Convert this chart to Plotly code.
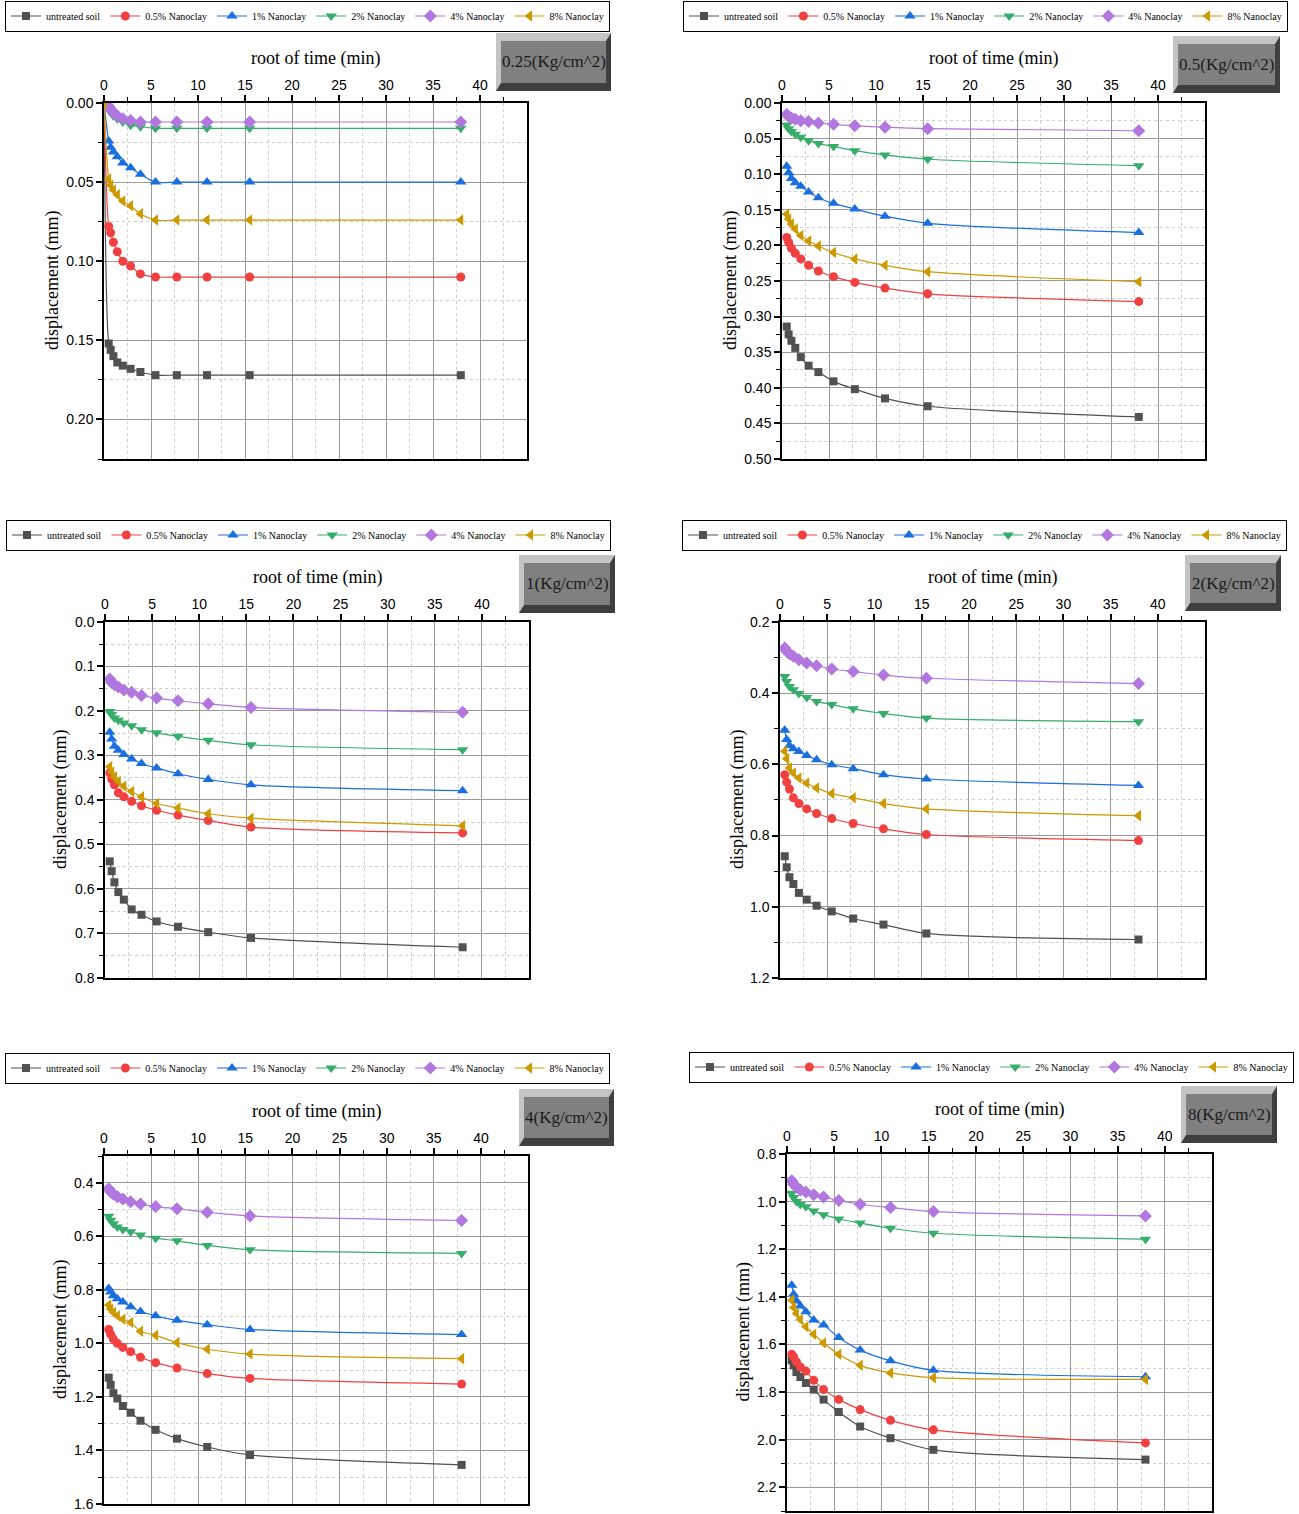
import plotly.graph_objects as go

W, H = 1299, 1514

# ---------------- data ----------------
sqrt_time = [0.5, 0.707, 1.0, 1.414, 2.0, 2.828, 3.873, 5.477, 7.746, 10.954, 15.492, 37.947]
sqrt_time_first = [0.0] + sqrt_time   # the 0.25 kg/cm^2 test also has the t = 0 reading

series_names = ["untreated soil", "0.5% Nanoclay", "1% Nanoclay", "2% Nanoclay", "4% Nanoclay", "8% Nanoclay"]
load_labels = ["0.25(Kg/cm^2)", "0.5(Kg/cm^2)", "1(Kg/cm^2)", "2(Kg/cm^2)", "4(Kg/cm^2)", "8(Kg/cm^2)"]

# 0.25 kg/cm^2
d025_untreated = [0, 0.152, 0.156, 0.160, 0.164, 0.166, 0.168, 0.170, 0.172, 0.172, 0.172, 0.172, 0.172]
d025_n05 = [0, 0.078, 0.082, 0.088, 0.094, 0.100, 0.103, 0.108, 0.110, 0.110, 0.110, 0.110, 0.110]
d025_n1 = [0, 0.024, 0.028, 0.031, 0.034, 0.038, 0.041, 0.045, 0.050, 0.050, 0.050, 0.050, 0.050]
d025_n2 = [0, 0.004, 0.006, 0.008, 0.010, 0.012, 0.014, 0.015, 0.016, 0.016, 0.016, 0.016, 0.016]
d025_n4 = [0, 0.002, 0.004, 0.006, 0.008, 0.010, 0.011, 0.012, 0.012, 0.012, 0.012, 0.012, 0.012]
d025_n8 = [0, 0.048, 0.052, 0.055, 0.058, 0.062, 0.065, 0.070, 0.074, 0.074, 0.074, 0.074, 0.074]

# 0.5 kg/cm^2
d05_untreated = [0.314, 0.325, 0.334, 0.344, 0.357, 0.369, 0.378, 0.391, 0.402, 0.415, 0.426, 0.441]
d05_n05 = [0.189, 0.196, 0.204, 0.211, 0.219, 0.228, 0.236, 0.244, 0.252, 0.260, 0.268, 0.279]
d05_n1 = [0.089, 0.098, 0.106, 0.112, 0.117, 0.125, 0.133, 0.141, 0.149, 0.159, 0.169, 0.182]
d05_n2 = [0.031, 0.036, 0.040, 0.044, 0.048, 0.053, 0.057, 0.061, 0.067, 0.073, 0.079, 0.088]
d05_n4 = [0.016, 0.019, 0.021, 0.023, 0.025, 0.026, 0.028, 0.030, 0.032, 0.034, 0.036, 0.039]
d05_n8 = [0.156, 0.163, 0.170, 0.177, 0.186, 0.194, 0.201, 0.210, 0.219, 0.228, 0.237, 0.251]

# 1 kg/cm^2
d1_untreated = [0.538, 0.560, 0.585, 0.607, 0.624, 0.646, 0.658, 0.673, 0.685, 0.697, 0.710, 0.731]
d1_n05 = [0.339, 0.353, 0.366, 0.384, 0.393, 0.403, 0.413, 0.423, 0.434, 0.446, 0.461, 0.474]
d1_n1 = [0.248, 0.263, 0.279, 0.288, 0.298, 0.308, 0.318, 0.328, 0.341, 0.354, 0.366, 0.379]
d1_n2 = [0.201, 0.208, 0.216, 0.221, 0.227, 0.233, 0.242, 0.249, 0.257, 0.266, 0.276, 0.287]
d1_n4 = [0.128, 0.136, 0.141, 0.146, 0.153, 0.158, 0.165, 0.171, 0.177, 0.184, 0.192, 0.203]
d1_n8 = [0.325, 0.337, 0.348, 0.358, 0.369, 0.381, 0.393, 0.408, 0.418, 0.431, 0.441, 0.458]

# 2 kg/cm^2
d2_untreated = [0.858, 0.889, 0.917, 0.936, 0.961, 0.980, 0.997, 1.013, 1.033, 1.050, 1.075, 1.092]
d2_n05 = [0.629, 0.650, 0.669, 0.694, 0.710, 0.725, 0.738, 0.752, 0.766, 0.781, 0.797, 0.814]
d2_n1 = [0.504, 0.530, 0.547, 0.556, 0.564, 0.575, 0.587, 0.601, 0.612, 0.629, 0.641, 0.659]
d2_n2 = [0.353, 0.367, 0.381, 0.390, 0.401, 0.412, 0.423, 0.432, 0.444, 0.457, 0.470, 0.480]
d2_n4 = [0.273, 0.282, 0.289, 0.296, 0.306, 0.315, 0.323, 0.332, 0.339, 0.349, 0.358, 0.373]
d2_n8 = [0.563, 0.584, 0.610, 0.624, 0.638, 0.652, 0.666, 0.682, 0.694, 0.710, 0.725, 0.744]

# 4 kg/cm^2
d4_untreated = [1.128, 1.155, 1.186, 1.206, 1.234, 1.259, 1.289, 1.323, 1.356, 1.387, 1.417, 1.454]
d4_n05 = [0.948, 0.966, 0.984, 1.000, 1.015, 1.031, 1.052, 1.072, 1.092, 1.113, 1.131, 1.152]
d4_n1 = [0.795, 0.808, 0.822, 0.833, 0.845, 0.863, 0.881, 0.897, 0.914, 0.930, 0.948, 0.967]
d4_n2 = [0.525, 0.540, 0.553, 0.565, 0.575, 0.583, 0.595, 0.607, 0.617, 0.634, 0.650, 0.664]
d4_n4 = [0.422, 0.434, 0.443, 0.452, 0.461, 0.471, 0.479, 0.489, 0.497, 0.510, 0.524, 0.541]
d4_n8 = [0.857, 0.872, 0.885, 0.897, 0.910, 0.922, 0.955, 0.970, 0.997, 1.022, 1.040, 1.057]

# 8 kg/cm^2
d8_untreated = [1.667, 1.688, 1.716, 1.737, 1.762, 1.790, 1.832, 1.884, 1.945, 1.994, 2.043, 2.084]
d8_n05 = [1.641, 1.653, 1.674, 1.695, 1.712, 1.751, 1.790, 1.831, 1.874, 1.919, 1.959, 2.014]
d8_n1 = [1.351, 1.389, 1.417, 1.439, 1.463, 1.498, 1.519, 1.571, 1.624, 1.669, 1.709, 1.736]
d8_n2 = [0.965, 0.983, 1.000, 1.012, 1.022, 1.040, 1.055, 1.073, 1.090, 1.112, 1.133, 1.158]
d8_n4 = [0.912, 0.927, 0.940, 0.951, 0.960, 0.971, 0.981, 0.995, 1.011, 1.025, 1.042, 1.060]
d8_n8 = [1.414, 1.445, 1.470, 1.495, 1.526, 1.557, 1.594, 1.641, 1.688, 1.720, 1.740, 1.747]

panel_data = [
    (sqrt_time_first, [d025_untreated, d025_n05, d025_n1, d025_n2, d025_n4, d025_n8]),
    (sqrt_time, [d05_untreated, d05_n05, d05_n1, d05_n2, d05_n4, d05_n8]),
    (sqrt_time, [d1_untreated, d1_n05, d1_n1, d1_n2, d1_n4, d1_n8]),
    (sqrt_time, [d2_untreated, d2_n05, d2_n1, d2_n2, d2_n4, d2_n8]),
    (sqrt_time, [d4_untreated, d4_n05, d4_n1, d4_n2, d4_n4, d4_n8]),
    (sqrt_time, [d8_untreated, d8_n05, d8_n1, d8_n2, d8_n4, d8_n8]),
]

# ---------------- styles / layout ----------------
colors = ["#515151", "#F14040", "#1A6FDF", "#37AD6B", "#B177DE", "#CC9900"]
symbols = ["square", "circle", "triangle-up", "triangle-down", "diamond", "triangle-left"]
msizes = [8, 9, 10, 10, 10, 10]

# pixel geometry of each panel (plot box, legend centre-left, label box, y title x)
panels = [
    dict(px=(104, 527), py=(103, 459), yr=(0.225, 0.0), dt=0.05, mdt=0.025, fmt=".2f",
         leg=(5, 16), box=(496, 33, 611, 91), ytx=52),
    dict(px=(782, 1205), py=(103, 459), yr=(0.5001, 0.0), dt=0.05, mdt=0.025, fmt=".2f",
         leg=(683, 16), box=(1173, 36, 1280, 93), ytx=730),
    dict(px=(105, 529), py=(622, 978), yr=(0.8001, 0.0), dt=0.1, mdt=0.05, fmt=".1f",
         leg=(6, 535), box=(519, 555, 615, 613), ytx=60),
    dict(px=(780, 1205), py=(622, 978), yr=(1.2001, 0.2), dt=0.2, mdt=0.1, fmt=".1f",
         leg=(682, 535), box=(1185, 555, 1281, 611), ytx=737),
    dict(px=(104, 528), py=(1156, 1504), yr=(1.6001, 0.3), dt=0.2, mdt=0.1, fmt=".1f",
         leg=(5, 1068), box=(519, 1089, 614, 1146), ytx=60),
    dict(px=(787, 1212), py=(1154, 1511), yr=(2.3, 0.8), dt=0.2, mdt=0.1, fmt=".1f",
         leg=(689, 1067), box=(1181, 1086, 1277, 1143), ytx=743),
]


def fx(p):
    return p / W


def fy(p):
    return 1 - p / H


SERIF = "Liberation Serif, Times New Roman, serif"
SANS = "Liberation Sans, Arial, sans-serif"

fig = go.Figure()
layout = dict(
    width=W, height=H,
    margin=dict(l=0, r=0, t=0, b=0, autoexpand=False),
    paper_bgcolor="white", plot_bgcolor="white",
    showlegend=True,
)
annotations = []
shapes = []

for i, (p, (xs, ys_list)) in enumerate(zip(panels, panel_data)):
    k = "" if i == 0 else str(i + 1)
    legname = "legend" + k
    for j, ys in enumerate(ys_list):
        fig.add_trace(go.Scatter(
            x=xs, y=ys, name=series_names[j], mode="lines+markers",
            xaxis="x" + k, yaxis="y" + k, legend=legname,
            line=dict(color=colors[j], width=1.2, shape="spline", smoothing=0.8),
            marker=dict(symbol=symbols[j], size=msizes[j], color=colors[j],
                        line=dict(width=0)),
            cliponaxis=True,
        ))

    layout["xaxis" + k] = dict(
        domain=[fx(p["px"][0]), fx(p["px"][1])], anchor="y" + k, side="top",
        range=[0, 44.99], tickmode="linear", tick0=0, dtick=5,
        ticks="outside", ticklen=6, tickwidth=1.5, tickcolor="black",
        showline=True, linecolor="black", linewidth=1.5, mirror=True,
        showgrid=True, gridcolor="#9a9a9a", gridwidth=1, zeroline=False,
        tickfont=dict(family=SANS, size=14, color="black"),
        minor=dict(dtick=2.5, tick0=0, ticks="outside", ticklen=4, tickwidth=1.2,
                   tickcolor="black", showgrid=True, gridcolor="#cfcfcf",
                   griddash="dot", gridwidth=1),
    )
    layout["yaxis" + k] = dict(
        domain=[fy(p["py"][1]), fy(p["py"][0])], anchor="x" + k,
        range=list(p["yr"]), tickmode="linear", tick0=0, dtick=p["dt"],
        tickformat=p["fmt"], ticklabeloverflow="allow",
        ticks="outside", ticklen=6, tickwidth=1.5, tickcolor="black",
        showline=True, linecolor="black", linewidth=1.5, mirror=True,
        showgrid=True, gridcolor="#9a9a9a", gridwidth=1, zeroline=False,
        tickfont=dict(family=SANS, size=14, color="black"),
        minor=dict(dtick=p["mdt"], tick0=0, ticks="outside", ticklen=4, tickwidth=1.2,
                   tickcolor="black", showgrid=True, gridcolor="#cfcfcf",
                   griddash="dot", gridwidth=1),
    )

    layout[legname] = dict(
        orientation="h", x=fx(p["leg"][0]), y=fy(p["leg"][1]),
        xanchor="left", yanchor="middle",
        bordercolor="black", borderwidth=1, bgcolor="white",
        font=dict(family=SERIF, size=10, color="black"),
        itemwidth=30, tracegroupgap=0,
    )

    # axis titles
    xc = (p["px"][0] + p["px"][1]) / 2
    yc = (p["py"][0] + p["py"][1]) / 2
    annotations.append(dict(
        text="root of time (min)", xref="paper", yref="paper",
        x=fx(xc), y=fy(p["py"][0] - 45), xanchor="center", yanchor="middle",
        showarrow=False, font=dict(family=SERIF, size=18, color="black"),
    ))
    annotations.append(dict(
        text="displacement (mm)", xref="paper", yref="paper",
        x=fx(p["ytx"]), y=fy(yc), xanchor="center", yanchor="middle",
        textangle=-90, showarrow=False, font=dict(family=SERIF, size=18, color="black"),
    ))

    # beveled load label box
    x0, y0, x1, y1 = p["box"]
    bl, bt, br, bb = 5, 8, 5, 8

    def P(a, b):
        return f"{fx(a):.6f},{fy(b):.6f}"
    shapes.append(dict(type="rect", xref="paper", yref="paper",
                       x0=fx(x0), x1=fx(x1), y0=fy(y1), y1=fy(y0),
                       fillcolor="#c4c4c4", line=dict(width=0), layer="above"))
    shapes.append(dict(type="path", xref="paper", yref="paper",
                       path=f"M{P(x1, y0)} L{P(x1, y1)} L{P(x0, y1)} L{P(x0 + bl, y1 - bb)} "
                            f"L{P(x1 - br, y1 - bb)} L{P(x1 - br, y0 + bt)} Z",
                       fillcolor="#3f3f3f", line=dict(width=0), layer="above"))
    shapes.append(dict(type="rect", xref="paper", yref="paper",
                       x0=fx(x0 + bl), x1=fx(x1 - br), y0=fy(y1 - bb), y1=fy(y0 + bt),
                       fillcolor="#808080", line=dict(width=0), layer="above"))
    annotations.append(dict(
        text=load_labels[i], xref="paper", yref="paper",
        x=fx((x0 + x1) / 2), y=fy((y0 + bt + y1 - bb) / 2), xanchor="center", yanchor="middle",
        showarrow=False, font=dict(family=SERIF, size=17, color="#1a1a1a"),
    ))

layout["annotations"] = annotations
layout["shapes"] = shapes
fig.update_layout(**layout)

fig.write_html(
    "out.html",
    config={"displayModeBar": False},
    post_script="document.body.style.margin='0';document.body.style.overflow='hidden';",
)
